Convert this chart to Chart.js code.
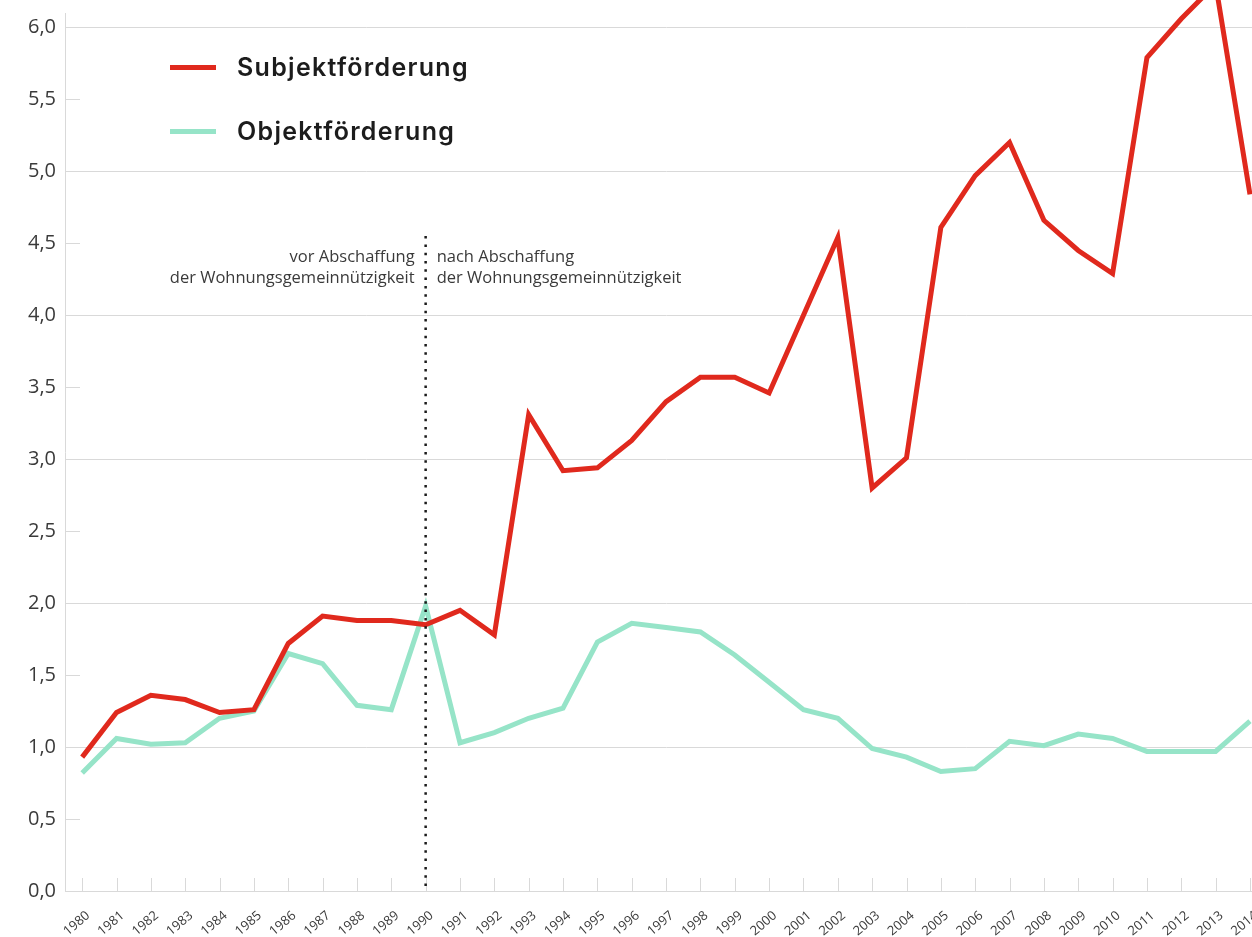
<!DOCTYPE html>
<html lang="de">
<head>
<meta charset="utf-8">
<title>Subjekt- und Objektförderung</title>
<script src="https://cdn.jsdelivr.net/npm/chart.js@4.4.1/dist/chart.umd.min.js"></script>
<style>
    html, body { margin: 0; padding: 0; background: #fff; overflow: hidden; }
    #wrap { position: relative; width: 1252px; height: 937px; overflow: hidden; }
    #chart { position: absolute; left: 0; top: 0; }
    #legend {
        position: absolute; left: 170px; top: 35px;
        font-family: Inter, "Noto Sans", sans-serif; font-weight: 600;
        font-size: 25px; letter-spacing: 1.3px; color: #1c1c1c;
    }
    .row { display: flex; align-items: center; height: 64px; }
    .swatch { width: 46px; height: 5px; margin-right: 21px; }
</style>
</head>
<body>
<div id="wrap">
    <canvas id="chart" width="1269" height="937"></canvas>
    <div id="legend"></div>
</div>
<script>
// Jahre 1980-2014
const years = ['1980', '1981', '1982', '1983', '1984', '1985', '1986', '1987', '1988', '1989',
    '1990', '1991', '1992', '1993', '1994', '1995', '1996', '1997', '1998', '1999',
    '2000', '2001', '2002', '2003', '2004', '2005', '2006', '2007', '2008', '2009',
    '2010', '2011', '2012', '2013', '2014'];

const subjektfoerderung = [0.93, 1.24, 1.36, 1.33, 1.24, 1.26, 1.72, 1.91, 1.88, 1.88,
    1.85, 1.95, 1.78, 3.31, 2.92, 2.94, 3.13, 3.40, 3.57, 3.57,
    3.46, 4.00, 4.54, 2.80, 3.01, 4.61, 4.97, 5.20, 4.66, 4.45,
    4.29, 5.79, 6.06, 6.30, 4.84];

const objektfoerderung = [0.82, 1.06, 1.02, 1.03, 1.20, 1.25, 1.65, 1.58, 1.29, 1.26,
    1.98, 1.03, 1.10, 1.20, 1.27, 1.73, 1.86, 1.83, 1.80, 1.64,
    1.45, 1.26, 1.20, 0.99, 0.93, 0.83, 0.85, 1.04, 1.01, 1.09,
    1.06, 0.97, 0.97, 0.97, 1.18];

const seriesNames = ['Subjektförderung', 'Objektförderung'];
const seriesColors = ['#e0291d', '#96e4c8'];

// Markierung: Abschaffung der Wohnungsgemeinnützigkeit
const markerYear = '1990';
const markerTop = 4.55;
const labelBefore = ['vor Abschaffung', 'der Wohnungsgemeinnützigkeit'];
const labelAfter = ['nach Abschaffung', 'der Wohnungsgemeinnützigkeit'];

const gridColor = '#d9d9d9';
const textColor = '#3a3a3a';

function formatAxisValue(value) {
    return value.toFixed(1).replace('.', ',');
}

function isWhole(value) {
    return Math.abs(value - Math.round(value)) < 1e-9;
}

// small tick marks, dotted marker line and its labels
const extrasPlugin = {
    id: 'extras',
    beforeDatasetsDraw(chart) {
        const { ctx, chartArea, scales } = chart;
        const x = scales.x;
        const y = scales.y;
        ctx.save();
        ctx.strokeStyle = gridColor;
        ctx.lineWidth = 1;
        // half steps on the y axis only get a short tick
        y.ticks.forEach((t) => {
            if (isWhole(t.value)) return;
            const py = Math.round(y.getPixelForValue(t.value)) + 0.5;
            ctx.beginPath();
            ctx.moveTo(chartArea.left, py);
            ctx.lineTo(chartArea.left + 15, py);
            ctx.stroke();
        });
        // year ticks pointing up from the baseline
        years.forEach((label, i) => {
            const px = Math.round(x.getPixelForValue(i)) + 0.5;
            ctx.beginPath();
            ctx.moveTo(px, chartArea.bottom);
            ctx.lineTo(px, chartArea.bottom - 13);
            ctx.stroke();
        });
        ctx.restore();
    },
    afterDatasetsDraw(chart) {
        const { ctx, chartArea, scales } = chart;
        const px = scales.x.getPixelForValue(years.indexOf(markerYear));
        const top = scales.y.getPixelForValue(markerTop);
        ctx.save();
        ctx.strokeStyle = '#1a1a1a';
        ctx.lineWidth = 2.5;
        ctx.setLineDash([2.5, 5.8]);
        ctx.beginPath();
        ctx.moveTo(px, top);
        ctx.lineTo(px, chartArea.bottom);
        ctx.stroke();

        ctx.setLineDash([]);
        ctx.fillStyle = textColor;
        ctx.font = '16.5px "Open Sans"';
        ctx.textBaseline = 'alphabetic';
        ctx.textAlign = 'right';
        labelBefore.forEach((line, i) => ctx.fillText(line, px - 11, top + 26 + i * 21));
        ctx.textAlign = 'left';
        labelAfter.forEach((line, i) => ctx.fillText(line, px + 11, top + 26 + i * 21));
        ctx.restore();
    }
};

const legendEl = document.getElementById('legend');
seriesNames.forEach((name, i) => {
    const row = document.createElement('div');
    row.className = 'row';
    const swatch = document.createElement('span');
    swatch.className = 'swatch';
    swatch.style.background = seriesColors[i];
    const text = document.createElement('span');
    text.textContent = name;
    row.appendChild(swatch);
    row.appendChild(text);
    legendEl.appendChild(row);
});

new Chart(document.getElementById('chart'), {
    type: 'line',
    data: {
        labels: years,
        datasets: [{
            label: seriesNames[0],
            data: subjektfoerderung,
            borderColor: seriesColors[0],
            borderWidth: 5,
            pointRadius: 0,
            tension: 0,
            clip: false
        }, {
            label: seriesNames[1],
            data: objektfoerderung,
            borderColor: seriesColors[1],
            borderWidth: 5,
            pointRadius: 0,
            tension: 0,
            clip: false
        }]
    },
    options: {
        responsive: false,
        animation: false,
        devicePixelRatio: 1,
        layout: { padding: { top: 13, left: 0, right: 0, bottom: 0 } },
        plugins: {
            legend: { display: false },
            tooltip: { enabled: false }
        },
        scales: {
            x: {
                type: 'category',
                offset: true,
                grid: { display: false },
                border: { color: gridColor, width: 1 },
                ticks: {
                    autoSkip: false,
                    minRotation: 40,
                    maxRotation: 40,
                    padding: 9,
                    labelOffset: 6,
                    color: textColor,
                    font: { family: '"Open Sans"', size: 13 }
                },
                afterFit(scale) { scale.height = 46; }
            },
            y: {
                min: 0,
                max: 6.1,
                border: { color: gridColor, width: 1 },
                grid: {
                    drawTicks: false,
                    color: (c) => (c.tick && isWhole(c.tick.value) ? gridColor : 'rgba(0,0,0,0)')
                },
                ticks: {
                    stepSize: 0.5,
                    includeBounds: false,
                    padding: 9,
                    color: textColor,
                    font: { family: '"Open Sans"', size: 20 },
                    callback: (value) => formatAxisValue(value)
                },
                afterBuildTicks(scale) {
                    scale.ticks = scale.ticks.filter((t) => isWhole(t.value * 2));
                },
                afterFit(scale) {
                    scale.width = 65;
                    scale.paddingTop = 0;
                    scale.paddingBottom = 0;
                }
            }
        }
    },
    plugins: [extrasPlugin]
});
</script>
</body>
</html>
